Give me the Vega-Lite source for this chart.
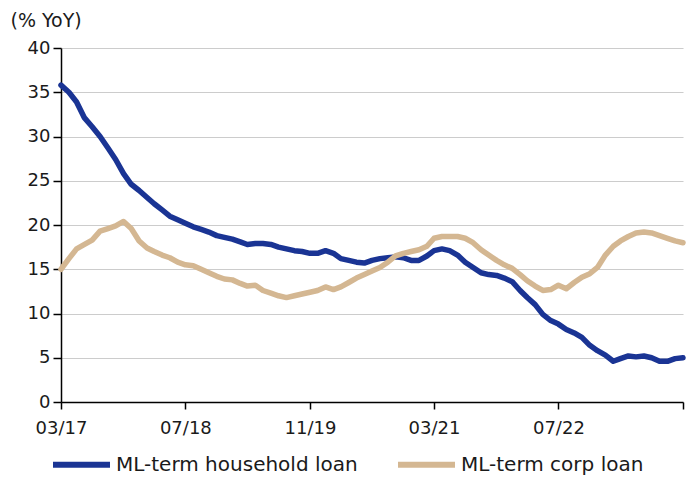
{
  "$schema": "https://vega.github.io/schema/vega-lite/v6.json",
  "width": 622,
  "height": 354,
  "autosize": {"type": "none"},
  "padding": {"left": 61, "top": 48, "right": 6, "bottom": 86},
  "background": "white",
  "config": {
    "font": "DejaVu Sans",
    "view": {"stroke": null},
    "axis": {"labelFont": "DejaVu Sans", "titleFont": "DejaVu Sans", "labelColor": "#1a1a1a", "titleColor": "#1a1a1a"},
    "legend": {"labelFont": "DejaVu Sans"}
  },
  "data": {
    "values": [
      {"d":"2017-03-01","hh":35.8,"corp":15.0},
      {"d":"2017-04-01","hh":35.0,"corp":16.2},
      {"d":"2017-05-01","hh":33.9,"corp":17.3},
      {"d":"2017-06-01","hh":32.1,"corp":17.8},
      {"d":"2017-07-01","hh":31.1,"corp":18.3},
      {"d":"2017-08-01","hh":30.0,"corp":19.3},
      {"d":"2017-09-01","hh":28.7,"corp":19.6},
      {"d":"2017-10-01","hh":27.4,"corp":19.9},
      {"d":"2017-11-01","hh":25.8,"corp":20.4},
      {"d":"2017-12-01","hh":24.6,"corp":19.6},
      {"d":"2018-01-01","hh":23.9,"corp":18.2},
      {"d":"2018-02-01","hh":23.1,"corp":17.4},
      {"d":"2018-03-01","hh":22.4,"corp":17.0},
      {"d":"2018-04-01","hh":21.7,"corp":16.6},
      {"d":"2018-05-01","hh":21.0,"corp":16.3},
      {"d":"2018-06-01","hh":20.6,"corp":15.8},
      {"d":"2018-07-01","hh":20.2,"corp":15.5},
      {"d":"2018-08-01","hh":19.8,"corp":15.4},
      {"d":"2018-09-01","hh":19.5,"corp":15.0},
      {"d":"2018-10-01","hh":19.2,"corp":14.6},
      {"d":"2018-11-01","hh":18.8,"corp":14.2},
      {"d":"2018-12-01","hh":18.6,"corp":13.9},
      {"d":"2019-01-01","hh":18.4,"corp":13.8},
      {"d":"2019-02-01","hh":18.1,"corp":13.4},
      {"d":"2019-03-01","hh":17.8,"corp":13.1},
      {"d":"2019-04-01","hh":17.9,"corp":13.2},
      {"d":"2019-05-01","hh":17.9,"corp":12.6},
      {"d":"2019-06-01","hh":17.8,"corp":12.3},
      {"d":"2019-07-01","hh":17.5,"corp":12.0},
      {"d":"2019-08-01","hh":17.3,"corp":11.8},
      {"d":"2019-09-01","hh":17.1,"corp":12.0},
      {"d":"2019-10-01","hh":17.0,"corp":12.2},
      {"d":"2019-11-01","hh":16.8,"corp":12.4},
      {"d":"2019-12-01","hh":16.8,"corp":12.6},
      {"d":"2020-01-01","hh":17.1,"corp":13.0},
      {"d":"2020-02-01","hh":16.8,"corp":12.7},
      {"d":"2020-03-01","hh":16.2,"corp":13.0},
      {"d":"2020-04-01","hh":16.0,"corp":13.5},
      {"d":"2020-05-01","hh":15.8,"corp":14.0},
      {"d":"2020-06-01","hh":15.7,"corp":14.4},
      {"d":"2020-07-01","hh":16.0,"corp":14.8},
      {"d":"2020-08-01","hh":16.2,"corp":15.2},
      {"d":"2020-09-01","hh":16.3,"corp":15.8},
      {"d":"2020-10-01","hh":16.4,"corp":16.5},
      {"d":"2020-11-01","hh":16.3,"corp":16.8},
      {"d":"2020-12-01","hh":16.0,"corp":17.0},
      {"d":"2021-01-01","hh":16.0,"corp":17.2},
      {"d":"2021-02-01","hh":16.5,"corp":17.6},
      {"d":"2021-03-01","hh":17.1,"corp":18.5},
      {"d":"2021-04-01","hh":17.3,"corp":18.7},
      {"d":"2021-05-01","hh":17.1,"corp":18.7},
      {"d":"2021-06-01","hh":16.6,"corp":18.7},
      {"d":"2021-07-01","hh":15.8,"corp":18.5},
      {"d":"2021-08-01","hh":15.2,"corp":18.0},
      {"d":"2021-09-01","hh":14.6,"corp":17.2},
      {"d":"2021-10-01","hh":14.4,"corp":16.6},
      {"d":"2021-11-01","hh":14.3,"corp":16.0},
      {"d":"2021-12-01","hh":14.0,"corp":15.5},
      {"d":"2022-01-01","hh":13.6,"corp":15.1},
      {"d":"2022-02-01","hh":12.6,"corp":14.4},
      {"d":"2022-03-01","hh":11.8,"corp":13.7},
      {"d":"2022-04-01","hh":11.0,"corp":13.1},
      {"d":"2022-05-01","hh":9.9,"corp":12.6},
      {"d":"2022-06-01","hh":9.2,"corp":12.7},
      {"d":"2022-07-01","hh":8.8,"corp":13.2},
      {"d":"2022-08-01","hh":8.2,"corp":12.8},
      {"d":"2022-09-01","hh":7.8,"corp":13.5},
      {"d":"2022-10-01","hh":7.3,"corp":14.1},
      {"d":"2022-11-01","hh":6.4,"corp":14.5},
      {"d":"2022-12-01","hh":5.8,"corp":15.2},
      {"d":"2023-01-01","hh":5.3,"corp":16.6},
      {"d":"2023-02-01","hh":4.6,"corp":17.6},
      {"d":"2023-03-01","hh":4.9,"corp":18.2},
      {"d":"2023-04-01","hh":5.2,"corp":18.7},
      {"d":"2023-05-01","hh":5.1,"corp":19.1},
      {"d":"2023-06-01","hh":5.2,"corp":19.2},
      {"d":"2023-07-01","hh":5.0,"corp":19.1},
      {"d":"2023-08-01","hh":4.6,"corp":18.8},
      {"d":"2023-09-01","hh":4.6,"corp":18.5},
      {"d":"2023-10-01","hh":4.9,"corp":18.2},
      {"d":"2023-11-01","hh":5.0,"corp":18.0}
    ]
  },
  "transform": [
    {"fold": ["hh", "corp"], "as": ["key", "value"]},
    {"lookup": "key", "from": {"data": {"values": [{"key": "hh", "series": "ML-term household loan"}, {"key": "corp", "series": "ML-term corp loan"}]}, "key": "key", "fields": ["series"]}}
  ],
  "mark": {"type": "line", "strokeWidth": 5.5, "strokeJoin": "round", "strokeCap": "round"},
  "encoding": {
    "x": {
      "field": "d",
      "type": "temporal",
      "scale": {"type": "utc", "domain": [{"year": 2017, "month": 3, "date": 1, "utc": true}, {"year": 2023, "month": 11, "date": 1, "utc": true}], "nice": false},
      "axis": {
        "title": null,
        "grid": false,
        "values": [
          {"year": 2017, "month": 3, "date": 1, "utc": true},
          {"year": 2018, "month": 7, "date": 1, "utc": true},
          {"year": 2019, "month": 11, "date": 1, "utc": true},
          {"year": 2021, "month": 3, "date": 1, "utc": true},
          {"year": 2022, "month": 7, "date": 1, "utc": true},
          {"year": 2023, "month": 11, "date": 1, "utc": true}
        ],
        "labelExpr": "utcyear(datum.value) == 2023 ? '' : utcFormat(datum.value, '%m/%y')",
        "domainColor": "#000000",
        "domainWidth": 1.5,
        "tickColor": "#000000",
        "tickWidth": 1.5,
        "tickSize": 7,
        "labelFontSize": 18,
        "labelPadding": 10,
        "labelFlush": false,
        "labelOverlap": false
      }
    },
    "y": {
      "field": "value",
      "type": "quantitative",
      "scale": {"domain": [0, 40], "nice": false},
      "axis": {
        "title": "(% YoY)",
        "titleAngle": 0,
        "titleAlign": "left",
        "titleBaseline": "middle",
        "titleX": -51,
        "titleY": -28,
        "titleFontSize": 19,
        "titleFontWeight": "normal",
        "values": [0, 5, 10, 15, 20, 25, 30, 35, 40],
        "gridColor": "#cccccc",
        "gridWidth": 1.2,
        "domainColor": "#000000",
        "domainWidth": 1.5,
        "tickColor": "#000000",
        "tickWidth": 1.5,
        "tickSize": 8,
        "labelFontSize": 18,
        "labelPadding": 3
      }
    },
    "color": {
      "field": "series",
      "type": "nominal",
      "sort": ["ML-term household loan", "ML-term corp loan"],
      "scale": {"domain": ["ML-term household loan", "ML-term corp loan"], "range": ["#1a3494", "#d4b792"]},
      "legend": {
        "title": null,
        "orient": "none",
        "direction": "horizontal",
        "legendX": -11,
        "legendY": 385,
        "symbolType": "stroke",
        "symbolSize": 3249,
        "symbolStrokeWidth": 6,
        "labelFontSize": 20,
        "labelColor": "#1a1a1a",
        "labelOffset": 3,
        "columnPadding": 28,
        "labelLimit": 400
      }
    }
  }
}
